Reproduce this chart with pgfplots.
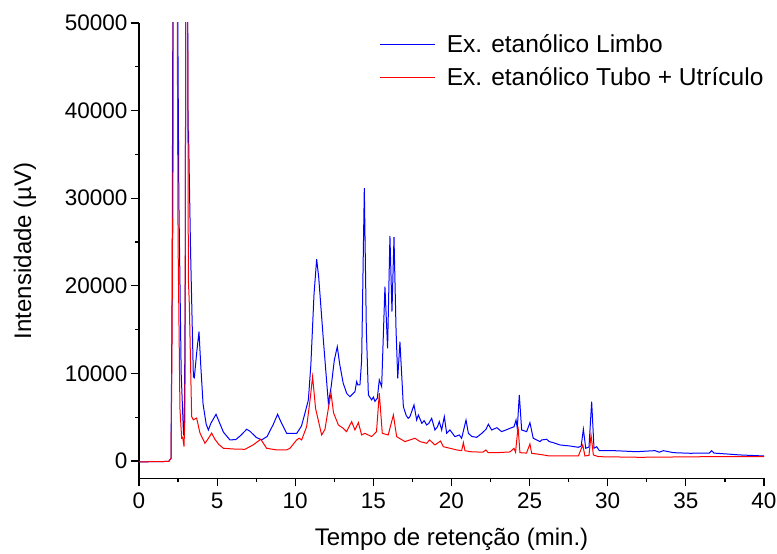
\documentclass[border=0pt]{standalone}
\usepackage{fontspec}
\setmainfont{Liberation Sans}
\usepackage{pgfplots}
\pgfplotsset{compat=1.18}

\begin{document}
\begin{tikzpicture}
\begin{axis}[
    scale only axis,
    width=625pt, height=455.5pt,
    xmin=0, xmax=40, ymin=-2000, ymax=50000,
    axis x line=bottom, axis y line=left,
    axis line style={-, line width=1.4pt},
    xtick={0,5,...,40}, ytick={0,10000,...,50000},
    minor x tick num=1, minor y tick num=1,
    tick align=outside,
    major tick length=8pt, minor tick length=4pt,
    tick style={line width=1.2pt, black},
    scaled ticks=false,
    /pgf/number format/set thousands separator={},
    /pgf/number format/assume math mode=true,
    tick label style={font=\fontsize{22.5}{26}\selectfont},
    xticklabel style={yshift=-3pt},
    label style={font=\fontsize{24}{28}\selectfont},
    xlabel={Tempo de retenção (min.)},
    ylabel={Intensidade (µV)},
    xlabel style={yshift=-12pt},
    ylabel style={yshift=22pt},
    legend style={draw=none, fill=none, font=\fontsize{24.5}{28}\selectfont,
        at={(rel axis cs:0.385,0.98)}, anchor=north west,
        row sep=10pt, inner sep=0pt},
    legend cell align=left,
    legend image code/.code={\draw[#1] (0pt,0pt) -- (55pt,0pt); \path (64pt,0pt);},
]
% Extrato do limbo
\addplot[blue, line width=1pt] table {
0 -100
1.0 -80
1.9 -50
2.05 300
2.12 20000
2.18 60000
2.45 60000
2.55 30000
2.7 10000
2.85 3000
2.9 3100
2.96 20000
3.0 60000
3.1 60000
3.14 37800
3.17 37600
3.3 24000
3.48 9600
3.54 9500
3.7 12500
3.84 14770
3.95 11000
4.1 6500
4.3 4200
4.44 3540
4.6 4300
4.93 5330
5.1 4600
5.4 3300
5.82 2400
6.2 2450
6.5 2900
6.89 3620
7.1 3400
7.5 2700
7.85 2400
8.2 2800
8.6 4200
8.87 5330
9.1 4400
9.45 3160
9.88 3160
10.1 3160
10.4 4000
10.62 5450
10.84 6970
11.0 11000
11.2 19000
11.37 23030
11.5 21000
11.8 13800
12.12 6590
12.3 8500
12.5 11500
12.69 13050
12.85 11000
13.07 8870
13.3 7700
13.5 7340
13.82 7910
13.93 9060
14.0 8700
14.14 8680
14.25 11530
14.42 31140
14.55 15000
14.68 7540
14.89 6970
15.0 7300
15.1 6800
15.25 7160
15.38 9250
15.53 8490
15.74 19900
15.91 12870
16.06 25700
16.19 17050
16.32 25550
16.45 15000
16.56 9440
16.7 13620
16.92 6200
17.1 5200
17.23 4870
17.34 5060
17.6 6400
17.77 4680
17.88 5250
18.1 4300
18.25 4600
18.41 4110
18.55 4300
18.73 4870
18.94 3540
19.1 3900
19.22 4490
19.37 3540
19.54 5060
19.69 3160
19.9 3540
20.22 2780
20.5 2970
20.65 2590
20.93 4680
21.08 3160
21.3 2800
21.61 2700
21.9 3100
22.2 3600
22.36 4190
22.57 3540
22.9 3800
23.21 3350
23.5 3550
23.74 3730
24.0 3900
24.13 4680
24.21 3730
24.34 7540
24.49 3540
24.81 3350
25.02 4380
25.23 2590
25.66 2210
25.77 2400
26.09 2480
26.26 2210
26.52 2090
26.94 1830
27.58 1710
28.12 1560
28.3 1700
28.44 3620
28.59 1450
28.8 1600
28.97 6770
29.12 1450
29.29 1630
29.46 1180
30.36 1180
31.85 1060
33.02 1180
33.3 1000
33.56 1180
34.2 950
35.26 880
36.5 900
36.65 1180
36.8 900
37.61 800
38.46 690
40 570
};
\addlegendentry{Ex. etanólico Limbo}
% Extrato do tubo + utriculo
\addplot[red, line width=1pt] table {
0 -100
1.0 -80
1.9 -50
2.05 300
2.12 15000
2.15 27700
2.17 26000
2.2 60000
2.43 60000
2.5 25000
2.62 6000
2.73 2600
2.8 2700
2.88 1650
2.94 5000
3.0 60000
3.1 60000
3.16 20700
3.22 18000
3.37 5060
3.48 4700
3.69 4900
3.9 3200
4.22 2020
4.45 2600
4.65 3180
4.85 2500
5.1 1900
5.4 1450
6.03 1370
6.78 1330
7.3 1830
7.79 2480
8.17 1450
8.81 1260
9.45 1260
9.66 1450
10.09 2400
10.25 2600
10.41 2400
10.73 3920
10.95 7000
11.11 9630
11.3 6000
11.69 2970
11.9 3600
12.1 5800
12.29 7730
12.45 5500
12.76 4110
13.07 3730
13.28 3350
13.61 4490
13.82 3540
14.04 4380
14.25 2970
14.46 3160
14.89 2780
15.2 3350
15.38 7730
15.57 3160
15.95 2970
16.28 5250
16.49 2780
17.02 2210
17.34 2400
17.66 2590
18.0 2200
18.41 2020
18.6 2400
18.94 1830
19.3 2280
19.48 1630
19.9 1450
20.33 1260
20.65 1180
20.76 2090
20.86 1180
21.18 1060
22.0 1000
22.2 1260
22.35 950
22.9 950
23.74 1030
24.0 1450
24.1 1000
24.26 3920
24.38 950
24.8 900
25.02 1940
25.13 880
25.88 690
26.26 570
28.12 570
28.4 1830
28.54 570
28.8 650
28.93 2970
29.08 690
29.4 490
32.06 420
36.33 490
40 490
};
\addlegendentry{Ex. etanólico Tubo + Utrículo}
\end{axis}
\pgfresetboundingbox
\path[use as bounding box] (-139pt,-75.5pt) rectangle (638pt,478.5pt);
\end{tikzpicture}
\end{document}
